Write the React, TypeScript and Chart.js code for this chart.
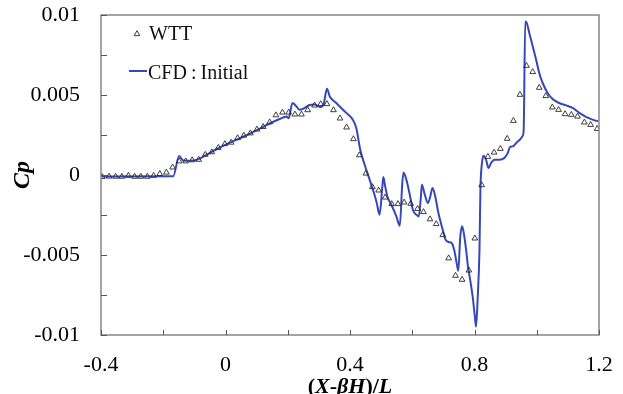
import { useEffect, useRef } from 'react';
import { Chart, registerables } from 'chart.js';

Chart.register(...registerables);

// Wind-tunnel test pressure coefficients
const wttX = [
  -0.396, -0.374, -0.353, -0.333, -0.312, -0.292, -0.272, -0.251, -0.231, -0.211,
  -0.19, -0.17, -0.149, -0.128, -0.107, -0.086, -0.065, -0.044, -0.023, -0.002,
  0.018, 0.039, 0.059, 0.08, 0.101, 0.121, 0.142, 0.162, 0.183, 0.203,
  0.223, 0.244, 0.264, 0.286, 0.306, 0.326, 0.347, 0.368, 0.389, 0.411,
  0.43, 0.451, 0.472, 0.492, 0.513, 0.534, 0.554, 0.574, 0.595, 0.617,
  0.636, 0.657, 0.677, 0.698, 0.717, 0.739, 0.76, 0.782, 0.801, 0.823,
  0.843, 0.863, 0.883, 0.905, 0.925, 0.946, 0.967, 0.987, 1.008, 1.029,
  1.05, 1.07, 1.091, 1.111, 1.131, 1.153, 1.173, 1.194,
];
const wttCp = [
  -0.00012, -0.00009, -0.0001, -0.0001, -0.00004, -0.0001, -0.0001, -0.0001, -0.00004, 0.00007,
  0.00016, 0.00048, 0.00086, 0.00086, 0.00093, 0.00096, 0.00127, 0.00143, 0.0017, 0.00194,
  0.00203, 0.00231, 0.00247, 0.00261, 0.00285, 0.00301, 0.0033, 0.00374, 0.00391, 0.00391,
  0.00379, 0.00379, 0.00406, 0.00435, 0.00444, 0.00444, 0.00406, 0.00354, 0.00298, 0.00225,
  0.00124, 0.0001, -0.00075, -0.00096, -0.0014, -0.00181, -0.00181, -0.00171, -0.00179, -0.00211,
  -0.00231, -0.00276, -0.00306, -0.00375, -0.0052, -0.00629, -0.00654, -0.00596, -0.00396, -0.00063,
  0.00114, 0.00141, 0.00164, 0.00227, 0.00339, 0.00502, 0.00683, 0.00644, 0.00546, 0.00494,
  0.00423, 0.00408, 0.00381, 0.00377, 0.00366, 0.00329, 0.00314, 0.00289,
];

// CFD result (initial configuration)
const cfdX = [
  -0.4, -0.168, -0.149, -0.136, -0.111, -0.087, -0.066, -0.029, 0.014, 0.057,
  0.0995, 0.142, 0.174, 0.196, 0.203, 0.215, 0.226, 0.238, 0.254, 0.27,
  0.287, 0.303, 0.315, 0.326, 0.335, 0.356, 0.388, 0.409, 0.42, 0.433,
  0.447, 0.463, 0.477, 0.486, 0.495, 0.504, 0.507, 0.513, 0.52, 0.533,
  0.549, 0.56, 0.568, 0.572, 0.581, 0.591, 0.602, 0.613, 0.621, 0.627,
  0.631, 0.639, 0.65, 0.658, 0.665, 0.674, 0.684, 0.698, 0.707, 0.717,
  0.728, 0.736, 0.743, 0.748, 0.754, 0.76, 0.766, 0.773, 0.779, 0.786,
  0.794, 0.8, 0.805, 0.81, 0.816, 0.819, 0.824, 0.829, 0.837, 0.845,
  0.853, 0.864, 0.88, 0.896, 0.907, 0.914, 0.923, 0.934, 0.95, 0.955,
  0.958, 0.963, 0.968, 0.976, 0.987, 0.998, 1.008, 1.019, 1.035, 1.051,
  1.072, 1.094, 1.115, 1.137, 1.158, 1.179, 1.198,
];
const cfdCp = [
  -0.00009, -0.00008, 0.00119, 0.00091, 0.00089, 0.00099, 0.00121, 0.00161, 0.00202, 0.00239,
  0.00279, 0.00322, 0.0035, 0.00366, 0.00354, 0.0045, 0.00433, 0.00408, 0.00419, 0.00438,
  0.00441, 0.00425, 0.00441, 0.00539, 0.00491, 0.0045, 0.00388, 0.00346, 0.00296, 0.00158,
  0.00064, -0.00029, -0.00113, -0.00175, -0.00248, -0.00071, -0.00012, -0.00071, -0.00134, -0.00186,
  -0.00259, -0.00317, -0.0005, 0.00016, -0.00029, -0.00113, -0.00217, -0.00248, -0.00259, -0.00154,
  -0.00061, -0.00113, -0.00175, -0.00134, -0.00081, -0.00134, -0.00238, -0.00342, -0.00404, -0.00419,
  -0.00429, -0.00479, -0.00554, -0.00598, -0.00392, -0.00321, -0.00367, -0.00467, -0.00571, -0.00654,
  -0.00759, -0.00863, -0.00948, -0.00779, -0.00467, -0.00092, 0.00075, 0.00121, 0.00096, 0.00044,
  0.00075, 0.00096, 0.00096, 0.00106, 0.00138, 0.00175, 0.00179, 0.002, 0.00231, 0.00246,
  0.00283, 0.0096, 0.0095, 0.00888, 0.00804, 0.00721, 0.00638, 0.00575, 0.00513, 0.00475,
  0.0045, 0.00435, 0.00419, 0.00388, 0.00363, 0.00346, 0.00335,
];

const seriesNames = ['WTT', 'CFD\u2009:\u2009Initial'];

const xTickValues = [-0.4, -0.2, 0, 0.2, 0.4, 0.6, 0.8, 1.0, 1.2];
const xTickLabels = ['-0.4', '', '0', '', '0.4', '', '0.8', '', '1.2'];
const yTickValues = [-0.01, -0.0075, -0.005, -0.0025, 0, 0.0025, 0.005, 0.0075, 0.01];
const yTickLabels = ['-0.01', '', '-0.005', '', '0', '', '0.005', '', '0.01'];

const SERIF = "'Liberation Serif', 'Times New Roman', serif";
const LINE_COLOR = '#3548b8';
const MARKER_COLOR = '#2a2a2a';

function drawTriangle(ctx: CanvasRenderingContext2D, x: number, y: number, r: number) {
  ctx.beginPath();
  for (let i = 0; i < 3; i++) {
    const a = (i * 2 * Math.PI) / 3;
    const px = x + Math.sin(a) * r;
    const py = y - Math.cos(a) * r;
    if (i === 0) ctx.moveTo(px, py);
    else ctx.lineTo(px, py);
  }
  ctx.closePath();
  ctx.stroke();
}

// Frame, inward tick marks, axis titles and the in-plot legend
const decorPlugin = {
  id: 'decor',
  afterDraw(chart: any) {
    const ctx: CanvasRenderingContext2D = chart.ctx;
    const { left, right, top, bottom } = chart.chartArea;
    const xs = chart.scales.x;
    const ys = chart.scales.y;
    ctx.save();

    // plot frame
    ctx.strokeStyle = '#868686';
    ctx.lineWidth = 1.5;
    ctx.strokeRect(left, top, right - left, bottom - top);

    // tick marks pointing into the plot
    ctx.strokeStyle = '#555';
    ctx.lineWidth = 1;
    ctx.beginPath();
    xTickValues.forEach((v) => {
      const px = Math.round(xs.getPixelForValue(v)) + 0.5;
      ctx.moveTo(px, bottom);
      ctx.lineTo(px, bottom - 5);
    });
    yTickValues.forEach((v) => {
      const py = Math.round(ys.getPixelForValue(v)) + 0.5;
      ctx.moveTo(left, py);
      ctx.lineTo(left + 6, py);
    });
    ctx.stroke();

    // y-axis title
    ctx.fillStyle = '#000';
    ctx.save();
    ctx.translate(23, (top + bottom) / 2);
    ctx.rotate(-Math.PI / 2);
    ctx.font = `italic bold 24px ${SERIF}`;
    ctx.textAlign = 'center';
    ctx.textBaseline = 'middle';
    ctx.fillText('Cp', 0, 0);
    ctx.restore();

    // x-axis title with mixed upright/italic parts
    const parts: [string, boolean][] = [
      ['(', false],
      ['X', true],
      ['-', false],
      ['βH', true],
      [')/', false],
      ['L', true],
    ];
    const fontFor = (it: boolean) => `${it ? 'italic ' : ''}bold 22px ${SERIF}`;
    let total = 0;
    parts.forEach(([t, it]) => {
      ctx.font = fontFor(it);
      total += ctx.measureText(t).width;
    });
    let cx = (left + right) / 2 - total / 2;
    ctx.textAlign = 'left';
    ctx.textBaseline = 'alphabetic';
    parts.forEach(([t, it]) => {
      ctx.font = fontFor(it);
      ctx.fillText(t, cx, 393);
      cx += ctx.measureText(t).width;
    });

    // legend
    ctx.font = `20px ${SERIF}`;
    ctx.textBaseline = 'middle';
    ctx.strokeStyle = MARKER_COLOR;
    ctx.lineWidth = 0.9;
    drawTriangle(ctx, 137, 34, 3.3);
    ctx.fillStyle = '#111';
    ctx.fillText(seriesNames[0], 149, 35);
    ctx.strokeStyle = LINE_COLOR;
    ctx.lineWidth = 2;
    ctx.beginPath();
    ctx.moveTo(129, 71);
    ctx.lineTo(147, 71);
    ctx.stroke();
    ctx.fillText(seriesNames[1], 148, 74);

    ctx.restore();
  },
};

export default function App() {
  const canvasRef = useRef<HTMLCanvasElement | null>(null);

  useEffect(() => {
    const canvas = canvasRef.current;
    if (!canvas) return;

    const chart = new Chart(canvas, {
      type: 'scatter',
      data: {
        datasets: [
          {
            label: seriesNames[0],
            data: wttX.map((x, i) => ({ x, y: wttCp[i] })),
            showLine: false,
            pointStyle: 'triangle',
            pointRadius: 3.3,
            pointBorderWidth: 0.9,
            pointBorderColor: MARKER_COLOR,
            pointBackgroundColor: 'rgba(255,255,255,0)',
            order: 0,
          },
          {
            label: seriesNames[1],
            data: cfdX.map((x, i) => ({ x, y: cfdCp[i] })),
            showLine: true,
            borderColor: LINE_COLOR,
            borderWidth: 2,
            pointRadius: 0,
            cubicInterpolationMode: 'monotone',
            order: 1,
          },
        ],
      },
      options: {
        responsive: false,
        animation: false,
        devicePixelRatio: 1,
        layout: { padding: { left: 0, top: 15, right: 24, bottom: 0 } },
        plugins: {
          legend: { display: false },
          tooltip: { enabled: false },
        },
        scales: {
          x: {
            type: 'linear',
            min: -0.4,
            max: 1.2,
            afterBuildTicks: (scale: any) => {
              scale.ticks = xTickValues.map((v) => ({ value: v }));
            },
            afterFit: (scale: any) => {
              scale.height = 59;
              scale.paddingLeft = 0;
              scale.paddingRight = 0;
            },
            grid: { display: false, drawTicks: false, tickLength: 0 },
            border: { display: false },
            ticks: {
              autoSkip: false,
              maxRotation: 0,
              padding: 17,
              color: '#000',
              font: { family: SERIF, size: 22 },
              callback: (_v: any, i: number) => xTickLabels[i],
            },
          },
          y: {
            type: 'linear',
            min: -0.01,
            max: 0.01,
            afterBuildTicks: (scale: any) => {
              scale.ticks = yTickValues.map((v) => ({ value: v }));
            },
            afterFit: (scale: any) => {
              scale.width = 101;
              scale.paddingTop = 0;
              scale.paddingBottom = 0;
            },
            grid: { display: false, drawTicks: false, tickLength: 0 },
            border: { display: false },
            ticks: {
              autoSkip: false,
              padding: 21,
              color: '#000',
              font: { family: SERIF, size: 22 },
              callback: (_v: any, i: number) => yTickLabels[i],
            },
          },
        },
      },
      plugins: [decorPlugin],
    } as any);

    return () => chart.destroy();
  }, []);

  return (
    <div style={{ position: 'absolute', left: 0, top: 0, width: 623, height: 394, background: '#fff' }}>
      <canvas ref={canvasRef} width={623} height={394} style={{ display: 'block' }} />
    </div>
  );
}
